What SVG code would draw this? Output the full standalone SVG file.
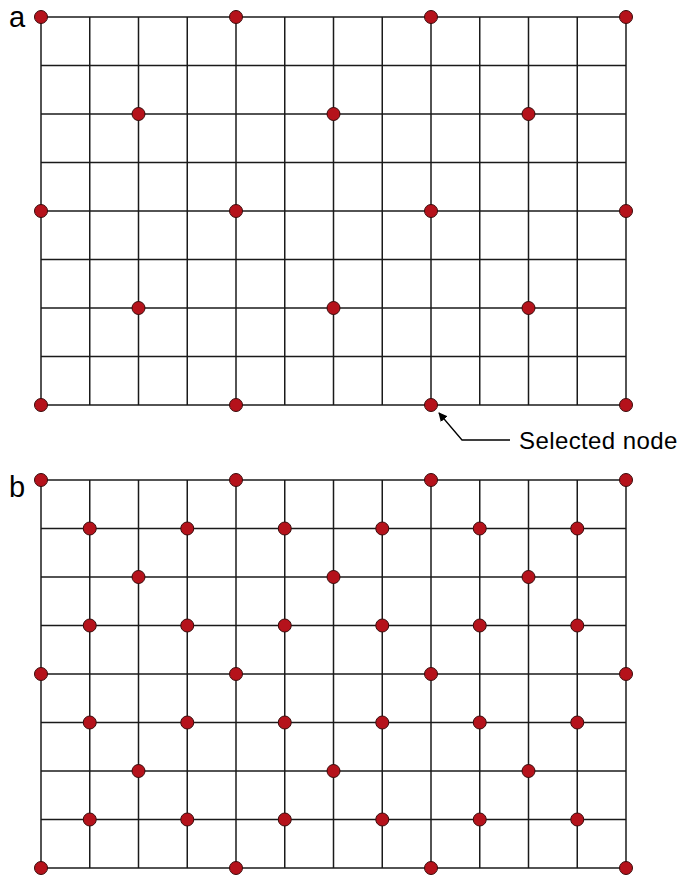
<svg xmlns="http://www.w3.org/2000/svg" width="678" height="876" viewBox="0 0 678 876">
<style>
.g line{stroke:#1a1a1a;stroke-width:1.5}
.n{fill:#b5121b;stroke:#3a0a0a;stroke-width:1}
.lbl{font-family:"Liberation Sans",Arial,sans-serif;fill:#000}
</style>
<defs>
<marker id="ah" viewBox="0 0 10 10" refX="9" refY="5" markerWidth="9" markerHeight="9" markerUnits="userSpaceOnUse" orient="auto">
<path d="M0,0 L10,5 L0,10 z" fill="#000"/>
</marker>
</defs>
<rect width="678" height="876" fill="#fff"/>
<text class="lbl" x="9" y="27" font-size="29">a</text>
<text class="lbl" x="9" y="497" font-size="29">b</text>
<g id="connectors">
<g class="g" id="grid-a">
<line x1="41" y1="17" x2="626" y2="17"/>
<line x1="41" y1="65.5" x2="626" y2="65.5"/>
<line x1="41" y1="114" x2="626" y2="114"/>
<line x1="41" y1="162.5" x2="626" y2="162.5"/>
<line x1="41" y1="211" x2="626" y2="211"/>
<line x1="41" y1="259.5" x2="626" y2="259.5"/>
<line x1="41" y1="308" x2="626" y2="308"/>
<line x1="41" y1="356.5" x2="626" y2="356.5"/>
<line x1="41" y1="405" x2="626" y2="405"/>
<line x1="41" y1="17" x2="41" y2="405"/>
<line x1="89.75" y1="17" x2="89.75" y2="405"/>
<line x1="138.5" y1="17" x2="138.5" y2="405"/>
<line x1="187.25" y1="17" x2="187.25" y2="405"/>
<line x1="236" y1="17" x2="236" y2="405"/>
<line x1="284.75" y1="17" x2="284.75" y2="405"/>
<line x1="333.5" y1="17" x2="333.5" y2="405"/>
<line x1="382.25" y1="17" x2="382.25" y2="405"/>
<line x1="431" y1="17" x2="431" y2="405"/>
<line x1="479.75" y1="17" x2="479.75" y2="405"/>
<line x1="528.5" y1="17" x2="528.5" y2="405"/>
<line x1="577.25" y1="17" x2="577.25" y2="405"/>
<line x1="626" y1="17" x2="626" y2="405"/>
</g>
<g class="g" id="grid-b">
<line x1="41" y1="480" x2="626" y2="480"/>
<line x1="41" y1="528.5" x2="626" y2="528.5"/>
<line x1="41" y1="577" x2="626" y2="577"/>
<line x1="41" y1="625.5" x2="626" y2="625.5"/>
<line x1="41" y1="674" x2="626" y2="674"/>
<line x1="41" y1="722.5" x2="626" y2="722.5"/>
<line x1="41" y1="771" x2="626" y2="771"/>
<line x1="41" y1="819.5" x2="626" y2="819.5"/>
<line x1="41" y1="868" x2="626" y2="868"/>
<line x1="41" y1="480" x2="41" y2="868"/>
<line x1="89.75" y1="480" x2="89.75" y2="868"/>
<line x1="138.5" y1="480" x2="138.5" y2="868"/>
<line x1="187.25" y1="480" x2="187.25" y2="868"/>
<line x1="236" y1="480" x2="236" y2="868"/>
<line x1="284.75" y1="480" x2="284.75" y2="868"/>
<line x1="333.5" y1="480" x2="333.5" y2="868"/>
<line x1="382.25" y1="480" x2="382.25" y2="868"/>
<line x1="431" y1="480" x2="431" y2="868"/>
<line x1="479.75" y1="480" x2="479.75" y2="868"/>
<line x1="528.5" y1="480" x2="528.5" y2="868"/>
<line x1="577.25" y1="480" x2="577.25" y2="868"/>
<line x1="626" y1="480" x2="626" y2="868"/>
</g>
<polyline id="callout" points="510,440 462,440 439,413" fill="none" stroke="#000" stroke-width="1.3" marker-end="url(#ah)"/>
</g>
<text class="lbl" x="519" y="449" font-size="24" letter-spacing="0.4">Selected node</text>
<g id="nodes-a">
<circle class="n" cx="41" cy="17" r="6.5"/><circle class="n" cx="236" cy="17" r="6.5"/><circle class="n" cx="431" cy="17" r="6.5"/><circle class="n" cx="626" cy="17" r="6.5"/>
<circle class="n" cx="138.5" cy="114" r="6.5"/><circle class="n" cx="333.5" cy="114" r="6.5"/><circle class="n" cx="528.5" cy="114" r="6.5"/>
<circle class="n" cx="41" cy="211" r="6.5"/><circle class="n" cx="236" cy="211" r="6.5"/><circle class="n" cx="431" cy="211" r="6.5"/><circle class="n" cx="626" cy="211" r="6.5"/>
<circle class="n" cx="138.5" cy="308" r="6.5"/><circle class="n" cx="333.5" cy="308" r="6.5"/><circle class="n" cx="528.5" cy="308" r="6.5"/>
<circle class="n" cx="41" cy="405" r="6.5"/><circle class="n" cx="236" cy="405" r="6.5"/><circle class="n" id="selected" cx="431" cy="405" r="6.5"/><circle class="n" cx="626" cy="405" r="6.5"/>
</g>
<g id="nodes-b">
<circle class="n" cx="41" cy="480" r="6.5"/><circle class="n" cx="236" cy="480" r="6.5"/><circle class="n" cx="431" cy="480" r="6.5"/><circle class="n" cx="626" cy="480" r="6.5"/>
<circle class="n" cx="89.75" cy="528.5" r="6.5"/><circle class="n" cx="187.25" cy="528.5" r="6.5"/><circle class="n" cx="284.75" cy="528.5" r="6.5"/><circle class="n" cx="382.25" cy="528.5" r="6.5"/><circle class="n" cx="479.75" cy="528.5" r="6.5"/><circle class="n" cx="577.25" cy="528.5" r="6.5"/>
<circle class="n" cx="138.5" cy="577" r="6.5"/><circle class="n" cx="333.5" cy="577" r="6.5"/><circle class="n" cx="528.5" cy="577" r="6.5"/>
<circle class="n" cx="89.75" cy="625.5" r="6.5"/><circle class="n" cx="187.25" cy="625.5" r="6.5"/><circle class="n" cx="284.75" cy="625.5" r="6.5"/><circle class="n" cx="382.25" cy="625.5" r="6.5"/><circle class="n" cx="479.75" cy="625.5" r="6.5"/><circle class="n" cx="577.25" cy="625.5" r="6.5"/>
<circle class="n" cx="41" cy="674" r="6.5"/><circle class="n" cx="236" cy="674" r="6.5"/><circle class="n" cx="431" cy="674" r="6.5"/><circle class="n" cx="626" cy="674" r="6.5"/>
<circle class="n" cx="89.75" cy="722.5" r="6.5"/><circle class="n" cx="187.25" cy="722.5" r="6.5"/><circle class="n" cx="284.75" cy="722.5" r="6.5"/><circle class="n" cx="382.25" cy="722.5" r="6.5"/><circle class="n" cx="479.75" cy="722.5" r="6.5"/><circle class="n" cx="577.25" cy="722.5" r="6.5"/>
<circle class="n" cx="138.5" cy="771" r="6.5"/><circle class="n" cx="333.5" cy="771" r="6.5"/><circle class="n" cx="528.5" cy="771" r="6.5"/>
<circle class="n" cx="89.75" cy="819.5" r="6.5"/><circle class="n" cx="187.25" cy="819.5" r="6.5"/><circle class="n" cx="284.75" cy="819.5" r="6.5"/><circle class="n" cx="382.25" cy="819.5" r="6.5"/><circle class="n" cx="479.75" cy="819.5" r="6.5"/><circle class="n" cx="577.25" cy="819.5" r="6.5"/>
<circle class="n" cx="41" cy="868" r="6.5"/><circle class="n" cx="236" cy="868" r="6.5"/><circle class="n" cx="431" cy="868" r="6.5"/><circle class="n" cx="626" cy="868" r="6.5"/>
</g>
</svg>
